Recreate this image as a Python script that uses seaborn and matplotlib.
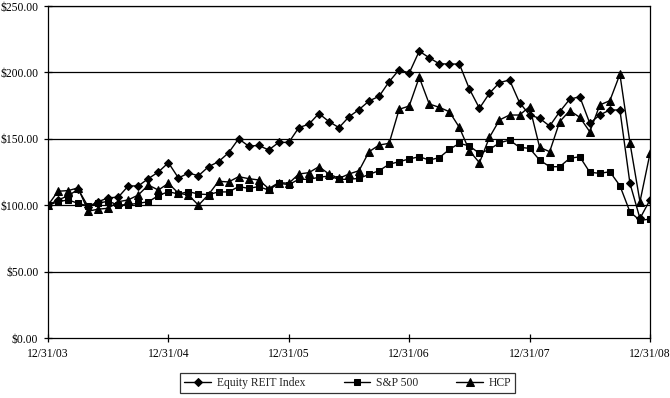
import pandas as pd
import seaborn as sns
import matplotlib
matplotlib.use("Agg")
import matplotlib.pyplot as plt

# Monthly cumulative value of $100 invested on 12/31/03
reit = [100, 104, 107, 112, 99, 102.6, 105.6, 106, 114.5, 114.5, 120, 125, 132,
        120.5, 124.2, 122.2, 129, 132.8, 139.5, 150, 144.5, 145, 141.6, 147.3, 147.3,
        158.4, 161, 169, 163, 158.4, 166.6, 172, 178.5, 182, 193, 202, 199.5,
        216, 211, 206.5, 206.3, 206.3, 187.5, 173, 184.3, 192.3, 194.3, 177.2, 168,
        165.4, 159.6, 170.4, 179.8, 181.7, 161.7, 168, 171.7, 171.7, 116.5, 90, 104]
sp500 = [100, 102.6, 104, 101.4, 99.4, 101.5, 103, 100.1, 100.5, 101.4, 102.6, 107.2, 110.2,
         108.4, 110.2, 108.4, 108, 110, 110, 114, 112.7, 114, 111.4, 116.5, 115.5,
         119.5, 119.5, 121, 122, 119.5, 119.5, 120.2, 123.2, 126, 130.8, 132.8, 134.8,
         136.5, 134, 135.8, 142, 146.6, 144.6, 139, 142, 147, 149, 143.6, 142.8,
         134, 129, 129, 135.3, 136.5, 124.8, 124, 125.2, 114.7, 95, 88.5, 89.6]
hcp = [100, 110.5, 111, 113, 95.5, 97, 97.7, 102.6, 104, 107.7, 115.2, 111.4, 116.5,
       109, 107.7, 100, 108, 118, 117.5, 121.5, 120, 119, 112.5, 117, 116.5,
       123.5, 124.5, 129, 123.5, 120.2, 123.5, 126, 140.3, 145.3, 146.6, 172.2, 174.7,
       196.3, 176.2, 173.7, 170.4, 158.6, 141, 132, 151.1, 164.2, 167.9, 167.9, 174.2,
       143.6, 140.3, 162.9, 171.2, 166.2, 155.3, 175.5, 178.7, 198.6, 147, 102.6, 139]

year_labels = ["12/31/03", "12/31/04", "12/31/05", "12/31/06", "12/31/07", "12/31/08"]
y_ticks = [0, 50, 100, 150, 200, 250]

months = list(range(len(reit)))
df = pd.DataFrame({"month": months, "Equity REIT Index": reit, "S&P 500": sp500, "HCP": hcp})

sns.set_style("white")
plt.rcParams["font.family"] = ["Liberation Serif", "DejaVu Serif"]

fig = plt.figure(figsize=(6.7, 3.98), dpi=100)
ax = fig.add_axes([48 / 670, 60 / 398, 602 / 670, 332 / 398])

series = [("Equity REIT Index", "D", 4.5), ("S&P 500", "s", 5), ("HCP", "^", 6)]
for name, mk, ms in series:
    sns.lineplot(data=df, x="month", y=name, ax=ax, color="black", lw=1,
                 marker=mk, markersize=ms, markeredgecolor="black", label=name)

ax.set_xlim(0, 60)
ax.set_ylim(0, 250)
ax.set_xticks(range(0, 61, 12))
ax.set_xticklabels(year_labels)
ax.set_yticks(y_ticks)
ax.set_yticklabels([f"${v:.2f}" for v in y_ticks])
ax.set_xlabel("")
ax.set_ylabel("")
for v in y_ticks[1:]:
    ax.axhline(v, color="black", lw=0.9, zorder=0)
for s in ax.spines.values():
    s.set_color("black")
    s.set_linewidth(0.9)
ax.tick_params(axis="both", direction="inout", length=6, width=0.9, color="black",
               labelsize=8.4, labelcolor="black", bottom=True, left=True, pad=4)

leg = ax.legend(loc="center", bbox_to_anchor=(0.498, -0.136), ncol=3, frameon=True,
                fontsize=8.4, handlelength=2.3, handletextpad=0.45, columnspacing=3.3,
                borderpad=0.35, fancybox=False, edgecolor="black")
leg.get_frame().set_linewidth(0.9)

fig.savefig("out.png", dpi=100)
